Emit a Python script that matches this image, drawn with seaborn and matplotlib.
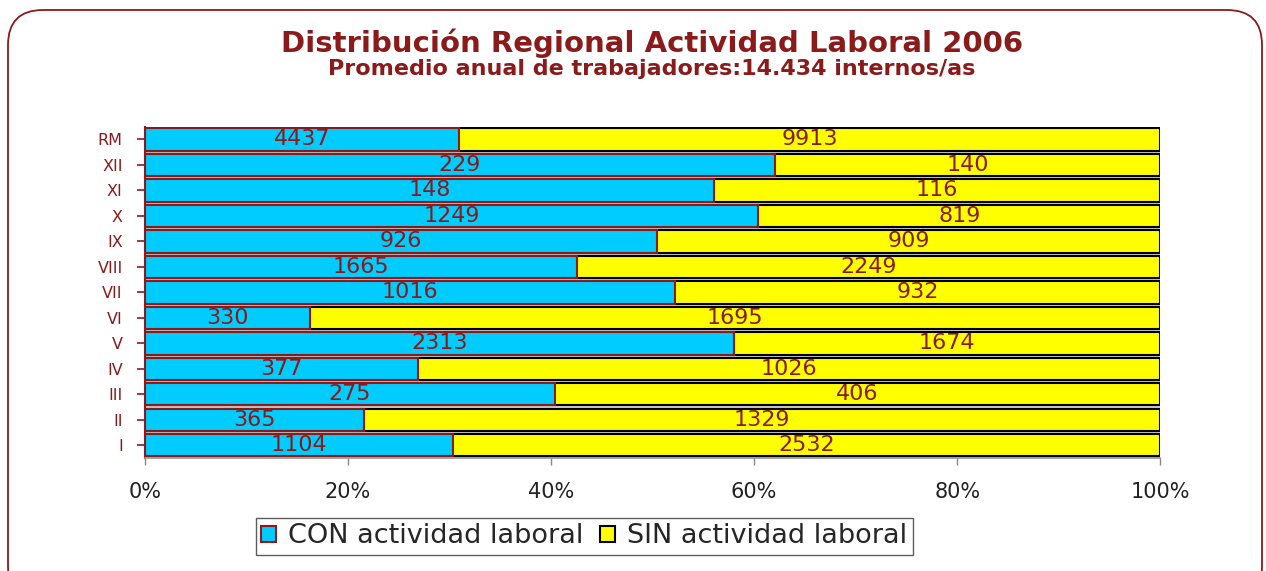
import pandas as pd
import seaborn as sns
import matplotlib.pyplot as plt
from matplotlib.patches import FancyBboxPatch, Patch

# Regional data, 2006 (top to bottom as in the chart)
regiones = ["RM", "XII", "XI", "X", "IX", "VIII", "VII", "VI", "V", "IV", "III", "II", "I"]
con_actividad = [4437, 229, 148, 1249, 926, 1665, 1016, 330, 2313, 377, 275, 365, 1104]
sin_actividad = [9913, 140, 116, 819, 909, 2249, 932, 1695, 1674, 1026, 406, 1329, 2532]

df = pd.DataFrame({"region": regiones, "con": con_actividad, "sin": sin_actividad})
df["total"] = df["con"] + df["sin"]
df["con_pct"] = df["con"] / df["total"] * 100
df["total_pct"] = 100.0

dark_red = "#8B1A1A"
cyan = "#00CCFF"
yellow = "#FFFF00"

sns.set_theme(style="white")
plt.rcParams["font.family"] = ["DejaVu Sans"]

fig = plt.figure(figsize=(12.66, 5.71), dpi=100)
ax = fig.add_axes([0.1145, 0.198, 0.802, 0.580])
ax.set_facecolor("#cccccc")

# yellow full bar underneath, cyan share on top
sns.barplot(data=df, x="total_pct", y="region", order=regiones, color=yellow, saturation=1,
            edgecolor="black", linewidth=1.5, width=0.88, orient="h", ax=ax)
sns.barplot(data=df, x="con_pct", y="region", order=regiones, color=cyan, saturation=1,
            edgecolor=dark_red, linewidth=1.5, width=0.88, orient="h", ax=ax)

for i, row in df.iterrows():
    ax.text(row["con_pct"] / 2, i, str(row["con"]), ha="center", va="center",
            fontsize=16, color=dark_red)
    ax.text(row["con_pct"] + (100 - row["con_pct"]) / 2, i, str(row["sin"]),
            ha="center", va="center", fontsize=16, color=dark_red)

ax.set_xlim(0, 100)
ax.set_ylim(12.5, -0.5)
ax.set_xticks([0, 20, 40, 60, 80, 100])
ax.set_xticklabels(["0%", "20%", "40%", "60%", "80%", "100%"], fontsize=15, color="#222222")
ax.set_xlabel("")
ax.set_ylabel("")
ax.tick_params(axis="y", labelsize=11.5, labelcolor=dark_red, color=dark_red,
               length=6, width=1.2, left=True, pad=10)
ax.tick_params(axis="x", color="#888888", length=5, width=1, bottom=True, pad=12)
for s in ["top", "right"]:
    ax.spines[s].set_visible(False)
ax.spines["left"].set_color(dark_red)
ax.spines["left"].set_linewidth(1.5)
ax.spines["bottom"].set_color("#999999")

fig.text(0.515, 0.925, "Distribución Regional Actividad Laboral 2006", ha="center", va="center",
         fontsize=21, fontweight="bold", color=dark_red)
fig.text(0.515, 0.880, "Promedio anual de trabajadores:14.434 internos/as", ha="center", va="center",
         fontsize=16, fontweight="bold", color=dark_red)

handles = [Patch(facecolor=cyan, edgecolor=dark_red, linewidth=1.5, label="CON actividad laboral"),
           Patch(facecolor=yellow, edgecolor="black", linewidth=1.5, label="SIN actividad laboral")]
leg = fig.legend(handles=handles, loc="center", bbox_to_anchor=(0.4615, 0.0605), ncol=2,
                 frameon=True, fancybox=False, fontsize=19.5, handlelength=0.55, handleheight=0.55,
                 handletextpad=0.45, columnspacing=0.6, borderpad=0.2, borderaxespad=0)
leg.get_frame().set_edgecolor("#333333")
leg.get_frame().set_linewidth(1)

frame = FancyBboxPatch((0.08, -0.3), 12.54, 5.91, boxstyle="round,pad=0,rounding_size=0.35",
                       transform=fig.dpi_scale_trans, facecolor="none", edgecolor=dark_red,
                       linewidth=1.3, clip_on=False)
fig.patches.append(frame)

fig.savefig("out.png", dpi=100)
